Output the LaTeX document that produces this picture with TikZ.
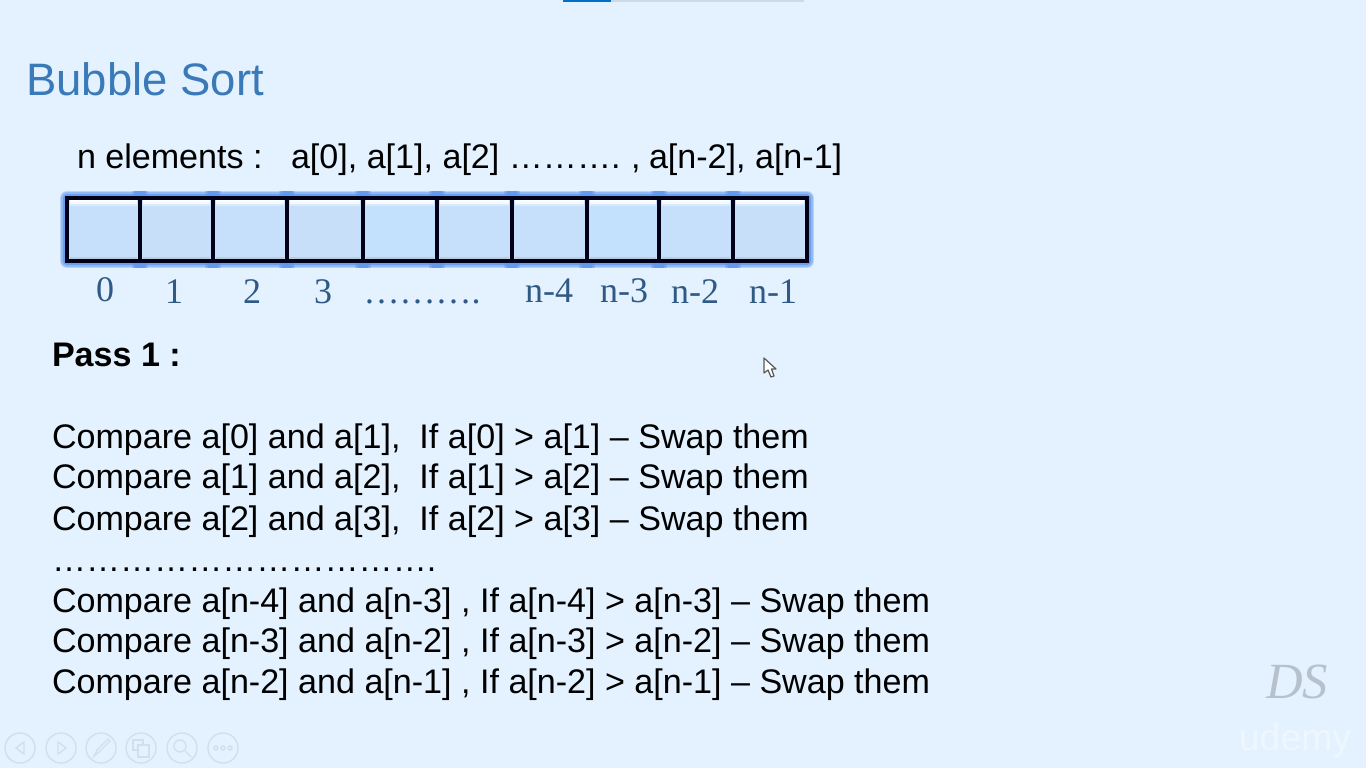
\documentclass[tikz,border=0pt]{standalone}
\usepackage{fontspec}
\setmainfont{Liberation Sans}
\newfontfamily\lserif{Liberation Serif}
\definecolor{bgc}{HTML}{E4F1FE}
\definecolor{titlec}{HTML}{3A7AB8}
\definecolor{labc}{HTML}{2F5A85}
\definecolor{cellA}{HTML}{C6DFFA}
\definecolor{cellB}{HTML}{C8DFFA}
\definecolor{cellC}{HTML}{C3E0FC}
\definecolor{glowc}{HTML}{5E97EE}
\definecolor{iconc}{HTML}{D2DEE9}
\newcommand{\szTitle}{\fontsize{34.1pt}{36pt}\selectfont}
\newcommand{\szBody}{\fontsize{25.56pt}{28pt}\selectfont}
\newcommand{\szLab}{\fontsize{27pt}{30pt}\selectfont}
\tikzset{
  txt/.style={anchor=base west,inner sep=0pt,outer sep=0pt,font=\szBody,text=black},
  idx/.style={anchor=base,inner sep=0pt,outer sep=0pt,font=\lserif\szLab,text=labc},
  icon/.style={draw=iconc,line width=1pt},
}
\begin{document}
\begin{tikzpicture}[x=0.75pt,y=-0.75pt]
\useasboundingbox (0,0) rectangle (1366,768);
\fill[bgc] (0,0) rectangle (1366,768);
% top progress bar
\fill[black!10!bgc] (611,0) rectangle (804,1.5);
\fill[blue!45!cyan!80!black] (563,0) rectangle (611,2);
% title and header
\node[anchor=base west,inner sep=0pt,font=\szTitle,text=titlec] (title) at (26,95) {Bubble Sort};
\node[txt] (nel) at (77,168) {n elements :};
\node[txt] (arr) at (291,168) {a[0], a[1], a[2] ……….};
\node[txt] (arrc) at (631,168) {,};
\node[txt] (arrb) at (649,168) {a[n-2], a[n-1]};
% glow
\foreach \w/\o in {10.5/0.3,8.5/0.45,6.5/0.75}{
  \draw[glowc,opacity=\o,line width=\w pt,line join=round] (67,198) rectangle (807,261);
}
\foreach \w/\o in {12/0.3,10/0.45,8/0.75}{
  \foreach \x in {140,213,287,363,437,512,587,659,733}
    \draw[glowc,opacity=\o,line width=\w pt] (\x,191) -- (\x,268);
}
% cells
\foreach \a/\b/\c in {67/140/cellA,140/213/cellB,213/287/cellA,287/363/cellB,363/437/cellC,437/512/cellA,512/587/cellA,587/659/cellC,659/733/cellA,733/807/cellB}{
  \fill[\c] (\a+1,198) rectangle (\b-1,261);
  \foreach \y/\o in {199.5/0.95,201.5/0.85,203.5/0.35}
    \fill[white,opacity=\o] (\a+3,\y) rectangle (\b-3,\y+2);
  \fill[black!35,opacity=0.35] (\a+3,257) rectangle (\b-3,259.5);
}
\foreach \a/\b/\n in {67/140/c0,140/213/c1,213/287/c2,287/363/c3,363/437/c4,437/512/c5,512/587/c6,587/659/c7,659/733/c8,733/807/c9}
  \node[draw=black!90!blue,line width=2.3pt,inner sep=0pt,outer sep=0pt,minimum width=(\b-\a)*0.75pt,minimum height=47.25pt,anchor=north west] (\n) at (\a,198) {};
% indices
\node[idx] (i0) at (105,301) {0};
\node[idx] (i1) at (174,303) {1};
\node[idx] (i2) at (252,303) {2};
\node[idx] (i3) at (323,303) {3};
\node[idx] (idots) at (422,303) {……….};
\node[idx] (i4) at (549,302) {n-4};
\node[idx] (i5) at (624,302) {n-3};
\node[idx] (i6) at (695,303) {n-2};
\node[idx] (i7) at (773,303) {n-1};
% body
\node[txt,font=\bfseries\szBody] (pass) at (52,366) {Pass 1 :};
\node[txt] (l1) at (52,448) {Compare a[0] and a[1],\ \ If a[0] > a[1] – Swap them};
\node[txt] (l2) at (52,488) {Compare a[1] and a[2],\ \ If a[1] > a[2] – Swap them};
\node[txt] (l3) at (52,530) {Compare a[2] and a[3],\ \ If a[2] > a[3] – Swap them};
\node[txt] (l4) at (52,571) {…………………………….};
\node[txt] (l5) at (52,612) {Compare a[n-4] and a[n-3] , If a[n-4] > a[n-3] – Swap them};
\node[txt] (l6) at (52,652) {Compare a[n-3] and a[n-2] , If a[n-3] > a[n-2] – Swap them};
\node[txt] (l7) at (52,693) {Compare a[n-2] and a[n-1] , If a[n-2] > a[n-1] – Swap them};
% mouse pointer
\draw[draw=black!65,fill=white,line width=0.9pt,line join=round]
  (764,358) -- (764,373) -- (768,370) -- (771,377) -- (774,376) -- (771.5,369) -- (776,369) -- cycle;
% watermarks
\node[anchor=base,inner sep=0pt,font=\lserif\itshape\fontsize{38pt}{40pt}\selectfont,text=black!20!bgc] (ds) at (1297,698) {DS};
\node[anchor=base,inner sep=0pt,font=\fontsize{28pt}{30pt}\selectfont,text=white!40!bgc] (ud) at (1295,750) {udemy};
% slide-show toolbar
\foreach \x in {20,61,101,141,182,223}
  \draw[icon] (\x,748) circle (15);
\draw[icon] (24,742) -- (16,748) -- (24,754) -- cycle;
\draw[icon] (58,742) -- (66,748) -- (58,754) -- cycle;
\draw[icon] (94,756) -- (97,750) -- (108,739) -- (110,741) -- (99,752) -- cycle;
\draw[icon] (133,740) rectangle (143,750);
\draw[icon,fill=bgc] (138,745) rectangle (149,757);
\draw[icon] (180,746) circle (6);
\draw[icon] (185,751) -- (191,757);
\foreach \x in {216,223,230}
  \draw[icon] (\x,748) circle (2);
\end{tikzpicture}
\end{document}
